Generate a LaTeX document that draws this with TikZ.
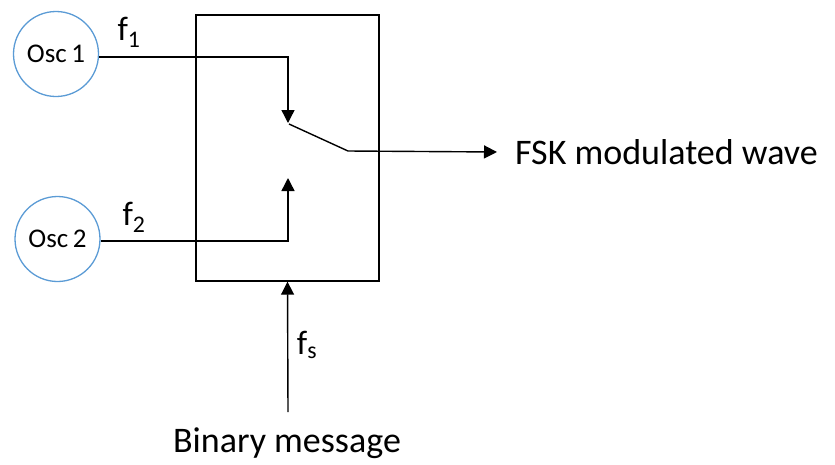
\documentclass[tikz,border=0pt]{standalone}
\usepackage{fontspec}
\setmainfont{Carlito}
\usepackage{tikz}
\usetikzlibrary{positioning,arrows.meta}
\definecolor{osccolor}{RGB}{91,155,213}

\begin{document}
\begin{tikzpicture}[x=1pt,y=-1pt,
osc/.style={draw=osccolor,circle,line width=1.3pt,minimum size=85pt,inner sep=0pt,font=\fontsize{27}{30}\selectfont},
lbl/.style={font=\fontsize{36}{40}\selectfont,inner sep=0pt},
flbl/.style={font=\fontsize{34}{38}\selectfont,inner sep=0pt},
arr/.style={-{Triangle[length=13pt,width=13pt]},line width=1.4pt},
wire/.style={line width=1.4pt}]
\useasboundingbox (0,0) rectangle (835,464);
\node[osc] (osc1) at (56,54) {Osc\,1};
\node[osc] (osc2) at (57.5,239) {Osc\,2};
\node[draw,line width=1.4pt,minimum width=183pt,minimum height=266pt,inner sep=0pt] (sw) at (287.5,148) {};
\coordinate (c1) at (288,57);
\coordinate (t1) at (288,123);
\coordinate (c2) at (288,241);
\coordinate (t2) at (288,178);
\coordinate (pv) at (289,124);
\coordinate (pt) at (348,151);
\coordinate (ms) at (288,412);
\node[lbl,anchor=west] (out) at (515,152) {FSK modulated wave};
\node[lbl,anchor=base] (msg) at (287,452) {Binary message};
\node[flbl] (f1) at (129,32) {f\textsubscript{1}};
\node[flbl] (f2) at (134,217) {f\textsubscript{2}};
\node[flbl] (fs) at (307,345) {f\textsubscript{s}};
% oscillator paths into the switch
\draw[arr] (osc1.east|-c1) -- (c1) -- (t1);
\draw[arr] (osc2.east|-c2) -- (c2) -- (t2);
\draw[wire] (pv) -- (pt);
\draw[arr] (pt) -- ([xshift=-18pt]out.west);
\draw[arr] (ms) -- (sw.south);
\end{tikzpicture}
\end{document}
